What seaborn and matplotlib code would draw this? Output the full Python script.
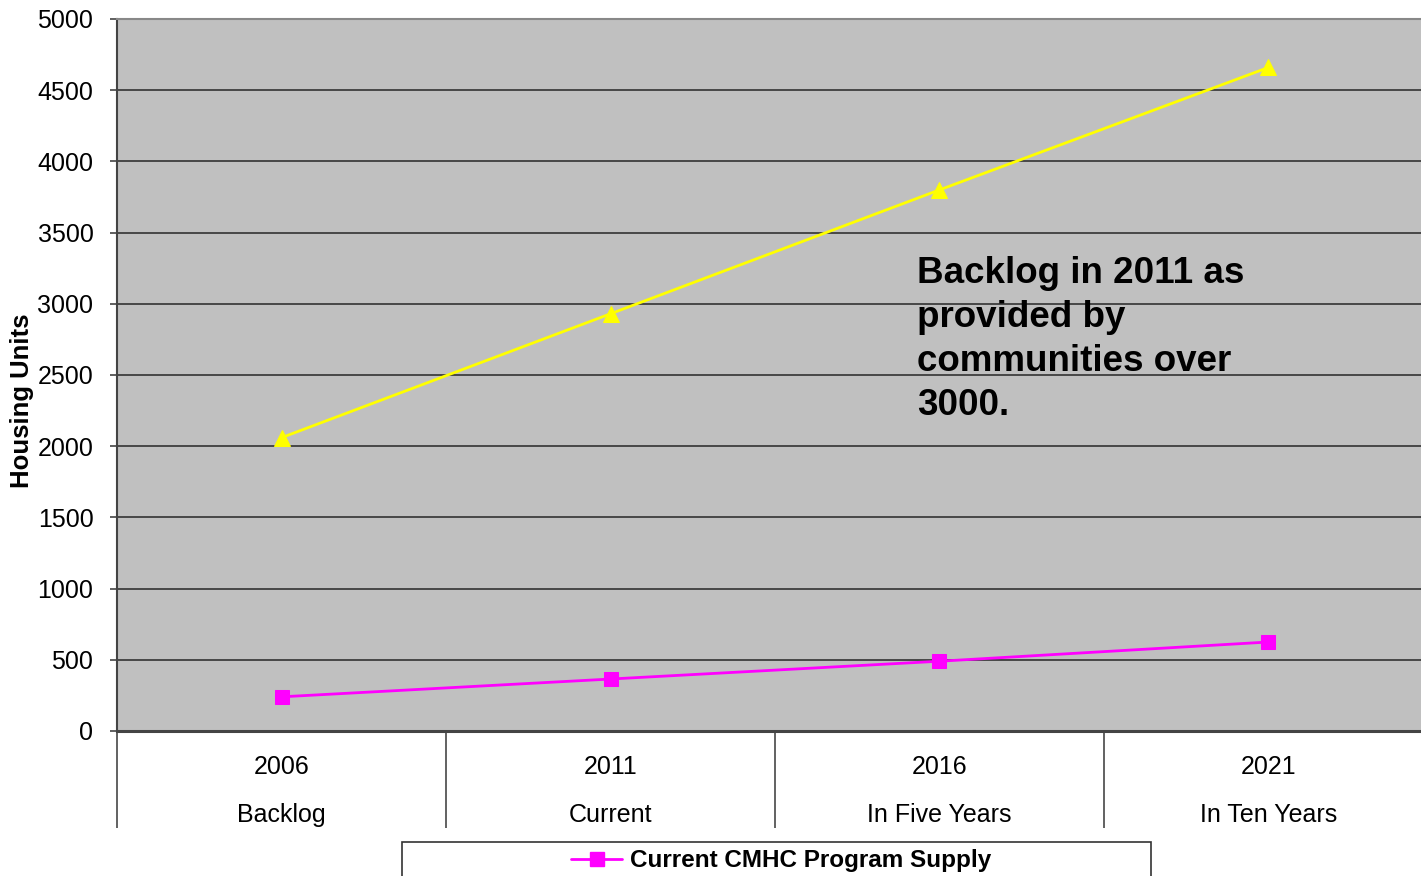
import matplotlib
matplotlib.use("Agg")
import matplotlib.pyplot as plt
from matplotlib.patches import Rectangle
from matplotlib.lines import Line2D
import seaborn as sns
import pandas as pd

# Data
years = ["2006", "2011", "2016", "2021"]
periods = ["Backlog", "Current", "In Five Years", "In Ten Years"]
backlog_need = [2060, 2930, 3800, 4660]
cmhc_supply = [240, 365, 490, 625]
supply_label = "Current CMHC Program Supply"
y_ticks = [0, 500, 1000, 1500, 2000, 2500, 3000, 3500, 4000, 4500, 5000]

sns.set_style("white")
plt.rcParams["font.family"] = ["Liberation Sans", "DejaVu Sans"]
plt.rcParams["text.color"] = "black"
plt.rcParams["axes.labelcolor"] = "black"
plt.rcParams["xtick.color"] = "black"
plt.rcParams["ytick.color"] = "black"

W, H = 1421, 876
fig = plt.figure(figsize=(W / 100, H / 100), dpi=100)
ax = fig.add_axes([117 / W, (H - 731) / H, 1316 / W, 712 / H])
ax.set_facecolor("#C0C0C0")

df = pd.DataFrame({
    "pos": list(range(len(years))) * 2,
    "value": backlog_need + cmhc_supply,
    "series": ["need"] * len(years) + ["supply"] * len(years),
})

sns.lineplot(data=df[df.series == "need"], x="pos", y="value", ax=ax,
             color="#FFFF00", lw=2, marker="^", markersize=11,
             markeredgecolor="#FFFF00", legend=False)
sns.lineplot(data=df[df.series == "supply"], x="pos", y="value", ax=ax,
             color="#FF00FF", lw=2, marker="s", markersize=10,
             markeredgecolor="#FF00FF", legend=False)

ax.set_xlim(-0.5, len(years) - 0.5)
ax.set_ylim(0, 5000)
ax.set_yticks(y_ticks)
ax.set_yticklabels([str(t) for t in y_ticks])
ax.grid(axis="y", color="#333333", lw=1.2)
ax.grid(axis="x", visible=False)
ax.set_axisbelow(True)

ax.set_xticks(range(len(years)))
ax.set_xticklabels([f"{y}\n{p}" for y, p in zip(years, periods)])
for lab in ax.get_xticklabels():
    lab.set_linespacing(2.3)
ax.set_xticks([i - 0.5 for i in range(len(years) + 1)], minor=True)
ax.tick_params(axis="x", which="major", bottom=True, length=0, pad=17,
               labelsize=18, labelcolor="black")
ax.tick_params(axis="x", which="minor", bottom=True, length=70, width=1.3,
               color="#555555", direction="out")
ax.tick_params(axis="y", which="major", left=True, length=5, width=1.2,
               color="#444444", direction="out", labelsize=18, pad=12,
               labelcolor="black")

for side in ["left", "bottom", "top", "right"]:
    ax.spines[side].set_visible(True)
ax.spines["left"].set_color("#444444")
ax.spines["left"].set_linewidth(1.5)
ax.spines["bottom"].set_color("#444444")
ax.spines["bottom"].set_linewidth(2.2)
ax.spines["top"].set_color("#888888")
ax.spines["top"].set_linewidth(1.5)

ax.set_xlabel("")
ax.set_ylabel("Housing Units", fontsize=18.5, fontweight="bold", color="black")
ax.yaxis.set_label_coords(-83 / 1316, (731 - 401) / 712)

ax.text(1.932, 3335,
        "Backlog in 2011 as\nprovided by\ncommunities over\n3000.",
        fontsize=26.5, fontweight="bold", ha="left", va="top",
        linespacing=1.33, color="black")

# Legend box below the chart
fig.patches.append(Rectangle((402 / W, -0.05), (1151 - 402) / W, (H - 842) / H + 0.05,
                             transform=fig.transFigure, fill=False,
                             edgecolor="#333333", lw=1.2))
handle = Line2D([], [], color="#FF00FF", lw=2, marker="s", markersize=10)
leg = fig.legend([handle], [supply_label], loc="center",
                 bbox_to_anchor=(781 / W, 1 - 861 / H), frameon=False,
                 prop={"size": 17.5, "weight": "bold"}, handlelength=2.1,
                 handletextpad=0.3, borderaxespad=0, borderpad=0.2)
for t in leg.get_texts():
    t.set_color("black")

fig.savefig("out.png", dpi=100)
